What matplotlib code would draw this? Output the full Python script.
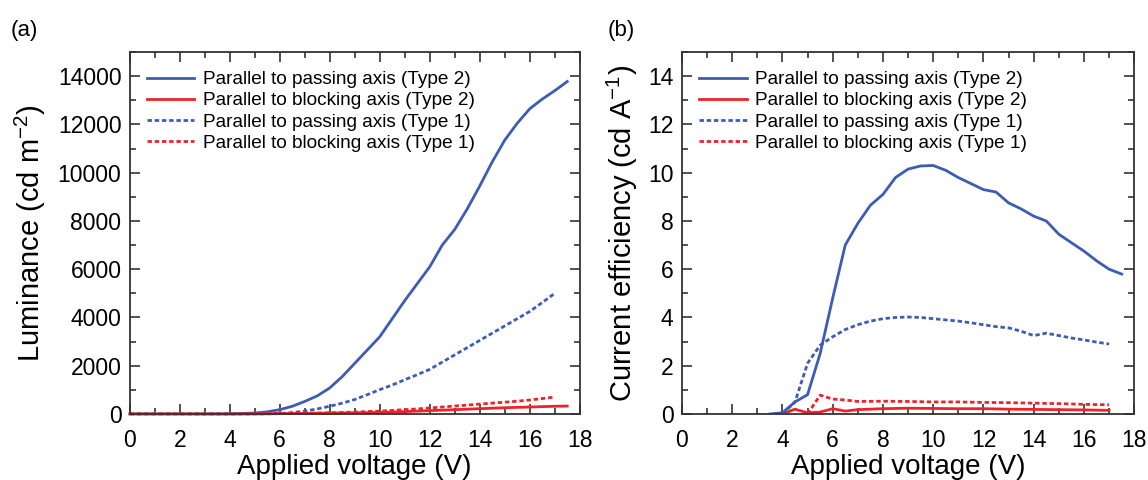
import matplotlib
matplotlib.use("Agg")
import matplotlib.pyplot as plt
from matplotlib.ticker import MultipleLocator

plt.rcParams['font.family'] = ['Liberation Sans', 'DejaVu Sans']
plt.rcParams['mathtext.default'] = 'regular'

BLUE = '#3d5cb3'
RED = '#ee2229'

labels = ['Parallel to passing axis (Type 2)', 'Parallel to blocking axis (Type 2)',
          'Parallel to passing axis (Type 1)', 'Parallel to blocking axis (Type 1)']

# (a) luminance vs voltage
lum_v2 = [0, 1, 2, 3, 4, 5, 5.5, 6, 6.5, 7, 7.5, 8, 8.5, 9, 9.5, 10, 10.5, 11, 11.5, 12,
          12.5, 13, 13.5, 14, 14.5, 15, 15.5, 16, 16.5, 17, 17.5]
lum_pass2 = [0, 0, 0, 0, 5, 40, 90, 180, 320, 520, 750, 1080, 1550, 2100, 2650, 3200, 3950,
             4700, 5400, 6100, 7000, 7650, 8500, 9450, 10450, 11350, 12050, 12650, 13050, 13400, 13780]
lum_block2 = [0, 0, 0, 0, 0, 5, 10, 15, 20, 25, 30, 35, 40, 50, 55, 65, 80, 100, 120, 140,
              160, 180, 200, 220, 240, 260, 275, 290, 305, 320, 330]

lum_v1 = [0, 1, 2, 3, 4, 5, 6, 6.5, 7, 7.5, 8, 8.5, 9, 9.5, 10, 10.5, 11, 11.5, 12, 12.5,
          13, 13.5, 14, 14.5, 15, 15.5, 16, 16.5, 17]
lum_pass1 = [0, 0, 0, 0, 0, 5, 20, 60, 120, 210, 320, 450, 600, 800, 1010, 1200, 1420, 1630,
             1850, 2150, 2450, 2750, 3050, 3350, 3650, 3950, 4250, 4620, 5000]
lum_block1 = [0, 0, 0, 0, 0, 5, 15, 20, 30, 40, 50, 65, 80, 100, 120, 150, 180, 210, 250, 290,
              330, 370, 410, 450, 490, 530, 580, 640, 700]

# (b) current efficiency vs voltage
ce_v2 = [3.5, 4, 4.5, 5, 5.5, 6, 6.5, 7, 7.5, 8, 8.5, 9, 9.5, 10, 10.5, 11, 11.5, 12, 12.5,
         13, 13.5, 14, 14.5, 15, 15.5, 16, 16.5, 17, 17.5]
ce_pass2 = [0, 0.05, 0.5, 0.8, 2.5, 4.8, 7.0, 7.9, 8.65, 9.1, 9.8, 10.15, 10.28, 10.3, 10.1,
            9.8, 9.55, 9.3, 9.2, 8.75, 8.5, 8.2, 8.0, 7.45, 7.1, 6.75, 6.35, 6.0, 5.8]
ce_bv2 = [4, 4.5, 5, 5.5, 6, 6.5, 7, 8, 9, 10, 11, 12, 13, 14, 15, 16, 17]
ce_block2 = [0, 0.2, 0.05, 0.08, 0.22, 0.12, 0.18, 0.22, 0.24, 0.23, 0.22, 0.22, 0.2, 0.19,
             0.18, 0.17, 0.15]

ce_v1 = [4, 4.5, 5, 5.5, 6, 6.5, 7, 7.5, 8, 8.5, 9, 9.5, 10, 10.5, 11, 11.5, 12, 12.5, 13,
         13.5, 14, 14.5, 15, 15.5, 16, 16.5, 17]
ce_pass1 = [0, 0.5, 2.1, 2.85, 3.2, 3.5, 3.7, 3.85, 3.95, 4.0, 4.02, 4.0, 3.95, 3.9, 3.85,
            3.78, 3.7, 3.62, 3.57, 3.43, 3.25, 3.35, 3.25, 3.15, 3.07, 2.98, 2.9]
ce_bv1 = [5, 5.5, 6, 6.5, 7, 8, 9, 10, 11, 12, 13, 14, 15, 16, 17]
ce_block1 = [0, 0.78, 0.62, 0.58, 0.52, 0.53, 0.52, 0.5, 0.5, 0.48, 0.47, 0.45, 0.43, 0.4, 0.38]

DOT = (0, (1.6, 1.0))


def style_axes(ax, ymax, ymajor, yminor):
    ax.set_xlim(0, 18)
    ax.set_ylim(0, ymax)
    ax.xaxis.set_major_locator(MultipleLocator(2))
    ax.xaxis.set_minor_locator(MultipleLocator(1))
    ax.yaxis.set_major_locator(MultipleLocator(ymajor))
    ax.yaxis.set_minor_locator(MultipleLocator(yminor))
    ax.tick_params(which='both', direction='in', top=True, right=True,
                   width=1.2, color='#333333')
    ax.tick_params(which='major', length=7, labelsize=16.5, pad=6)
    ax.tick_params(axis='x', which='major', pad=11)
    ax.tick_params(which='minor', length=4)
    for sp in ax.spines.values():
        sp.set_linewidth(1.3)
        sp.set_color('#333333')
    ax.set_xlabel('Applied voltage (V)', fontsize=20, labelpad=1)
    ax.legend(loc='upper left', frameon=False, fontsize=13.7, handlelength=2.5,
              handletextpad=0.45, labelspacing=0.2, borderaxespad=0.5,
              bbox_to_anchor=(0.0, 0.995))


fig = plt.figure(figsize=(11.48, 4.8), dpi=100)
ax1 = fig.add_axes([0.113, 0.1375, 0.392, 0.754])
ax2 = fig.add_axes([0.594, 0.1375, 0.394, 0.754])

ax1.plot(lum_v2, lum_pass2, color=BLUE, lw=2, label=labels[0])
ax1.plot(lum_v2, lum_block2, color=RED, lw=2, label=labels[1], clip_on=False)
ax1.plot(lum_v1, lum_pass1, color=BLUE, lw=2, ls=DOT, label=labels[2])
ax1.plot(lum_v1, lum_block1, color=RED, lw=2, ls=DOT, label=labels[3], clip_on=False)
style_axes(ax1, 15000, 2000, 1000)
ax1.set_ylabel('Luminance (cd m$^{-2}$)', fontsize=21, labelpad=7)

ax2.plot(ce_v2, ce_pass2, color=BLUE, lw=2, label=labels[0])
ax2.plot(ce_bv2, ce_block2, color=RED, lw=2, label=labels[1])
ax2.plot(ce_v1, ce_pass1, color=BLUE, lw=2, ls=DOT, label=labels[2])
ax2.plot(ce_bv1, ce_block1, color=RED, lw=2, ls=DOT, label=labels[3])
style_axes(ax2, 15, 2, 1)
ax2.set_ylabel('Current efficiency (cd A$^{-1}$)', fontsize=21, labelpad=6)

fig.text(0.009, 0.925, '(a)', fontsize=16)
fig.text(0.529, 0.925, '(b)', fontsize=16)

fig.savefig('out.png', dpi=100)
